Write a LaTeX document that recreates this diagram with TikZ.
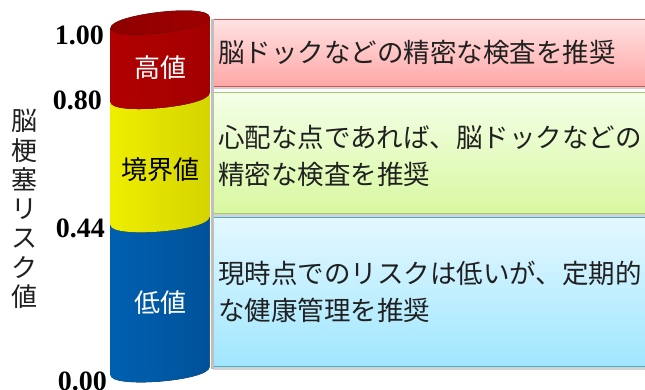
\documentclass[tikz,border=0pt]{standalone}
\usepackage{fontspec}
\setmainfont{Liberation Serif}
\newfontfamily\jp{Noto Sans CJK JP}
\usetikzlibrary{shadows}
\definecolor{redL}{HTML}{B00000}
\definecolor{redM}{HTML}{DC0008}
\definecolor{redR}{HTML}{A40000}
\definecolor{redTop}{HTML}{8E0000}
\definecolor{yelL}{HTML}{EEEE00}
\definecolor{yelM}{HTML}{FFFF00}
\definecolor{yelR}{HTML}{D4D400}
\definecolor{bluL}{HTML}{0060B0}
\definecolor{bluM}{HTML}{0078CC}
\definecolor{bluR}{HTML}{00529A}
\definecolor{rboxT}{HTML}{FFE2E2}
\definecolor{rboxB}{HTML}{FFA6A6}
\definecolor{rboxD}{HTML}{CC5555}
\definecolor{gboxT}{HTML}{F4FFE8}
\definecolor{gboxB}{HTML}{D8F8A0}
\definecolor{gboxD}{HTML}{A8C870}
\definecolor{bboxT}{HTML}{E4F8FF}
\definecolor{bboxB}{HTML}{A0E6FF}
\definecolor{bboxD}{HTML}{4BACC6}
\definecolor{txt}{HTML}{202020}
\tikzset{
  adbox/.style={draw=#1, line width=1pt, rectangle, anchor=north west, minimum width=460pt,
    drop shadow={shadow xshift=0pt, shadow yshift=-3pt, opacity=0.35}},
  advtext/.style={anchor=west, align=left, text=txt, inner sep=0pt, font=\jp\fontsize{26.5}{37}\selectfont},
  cyltext/.style={inner sep=0pt, font=\jp\fontsize{26}{30}\selectfont},
  numtext/.style={anchor=east, inner sep=0pt, font=\bfseries\fontsize{28}{30}\selectfont},
}
\begin{document}
\begin{tikzpicture}[x=1pt,y=1pt]
\useasboundingbox (0,0) rectangle (645,389);
\clip (0,0) rectangle (645,389);
\fill[white] (0,0) rectangle (645,389);
% boxes
\node[adbox=rboxD, top color=rboxT, bottom color=rboxB, minimum height=67pt] (rbox) at (212.5,370) {};
\node[adbox=gboxD, top color=gboxT, bottom color=gboxB, minimum height=121pt] (gbox) at (212.5,297) {};
\node[adbox=bboxD, top color=bboxT, bottom color=bboxB, minimum height=149pt] (bbox) at (212.5,172) {};
\node[advtext] (rtext) at (218,337) {脳ドックなどの精密な検査を推奨};
\node[advtext] (gtext) at (218,233) {心配な点であれば、脳ドックなどの\\精密な検査を推奨};
\node[advtext] (btext) at (218,97) {現時点でのリスクは低いが、定期的\\な健康管理を推奨};
% cylinder shadow
\fill[black!25] (211,20) rectangle (214,370);
% cylinder
\fill[left color=bluL, middle color=bluM, right color=bluR]
  (110.5,164) -- (110.5,14) .. controls (110.5,0) and (209.5,8) .. (209.5,22) -- (209.5,172) -- cycle;
\fill[left color=yelL, middle color=yelM, right color=yelR]
  (110.5,287) -- (110.5,164) .. controls (110.5,150) and (209.5,158) .. (209.5,172) -- (209.5,296) -- cycle;
\fill[left color=redL, middle color=redM, right color=redR]
  (110.5,361) -- (110.5,287) .. controls (110.5,273) and (209.5,282) .. (209.5,296) -- (209.5,372) -- cycle;
\fill[left color=redTop, right color=redTop!85!red]
  (110.5,361) .. controls (110.5,375) and (209.5,386) .. (209.5,372)
  .. controls (209.5,358) and (110.5,347) .. (110.5,361);
\node[cyltext, text=white] (high) at (160,321) {高値};
\node[cyltext, text=black] (mid) at (160,219) {境界値};
\node[cyltext, text=white] (low) at (160,86) {低値};
% scale numbers
\node[numtext] (n100) at (104,354) {1.00};
\node[numtext] (n080) at (102,289) {0.80};
\node[numtext] (n044) at (105,161) {0.44};
\node[numtext] (n000) at (107,8) {0.00};
% axis title
\node[align=center, inner sep=0pt, text=txt, font=\jp\fontsize{26}{29.3}\selectfont] (axis) at (25,180)
  {脳\\梗\\塞\\リ\\ス\\ク\\値};
\end{tikzpicture}
\end{document}
